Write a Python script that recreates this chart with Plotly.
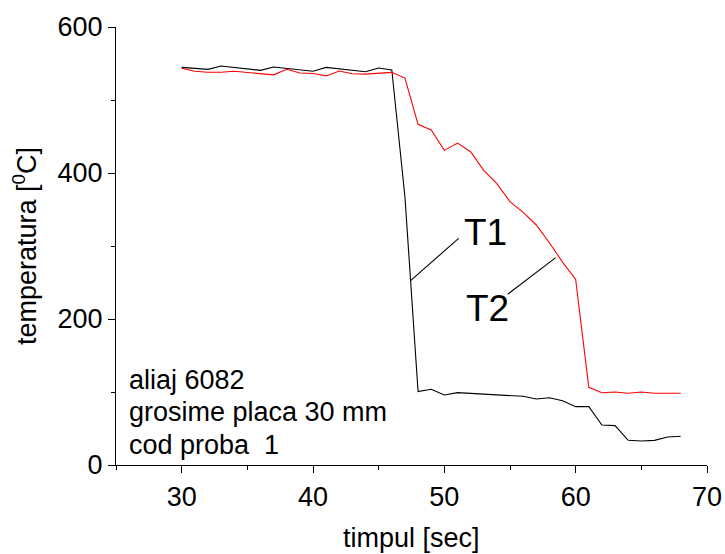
import plotly.graph_objects as go

t1_x = list(range(30, 69))
t1_y = [544.7, 543.8, 542.0, 546.6, 544.3, 542.5, 540.6, 545.2, 542.9, 541.1,
        539.3, 544.7, 542.5, 540.6, 538.8, 543.8, 541.1, 367.5, 100.5, 103.7,
        95.9, 99.1, 98.2, 97.3, 96.3, 95.4, 94.1, 90.4, 92.2, 88.1,
        79.9, 79.9, 54.8, 53.9, 33.8, 32.9, 33.8, 38.4, 39.3]

t2_x = list(range(30, 69))
t2_y = [543.4, 539.3, 538.0, 538.0, 539.3, 537.5, 535.9, 534.5, 542.0, 537.0,
        536.3, 533.0, 539.8, 535.9, 535.4, 536.3, 537.9, 530.0, 466.7, 458.9,
        431.0, 441.0, 429.2, 403.6, 385.4, 360.7, 346.1, 328.8, 304.5, 278.0,
        254.3, 106.4, 99.0, 100.0, 98.2, 100.0, 98.2, 98.2, 98.2]

info_lines = ["aliaj 6082", "grosime placa 30 mm", "cod proba  1"]
info_y = [116, 72.6, 27.4]

FONT = "Arial, Liberation Sans, sans-serif"

fig = go.Figure()
fig.add_trace(go.Scatter(x=t1_x, y=t1_y, mode="lines", name="T1",
                         line=dict(color="#000000", width=1.1)))
fig.add_trace(go.Scatter(x=t2_x, y=t2_y, mode="lines", name="T2",
                         line=dict(color="#ff0000", width=1.1)))

for txt, yy in zip(info_lines, info_y):
    fig.add_annotation(x=25.85, y=yy, xref="x", yref="y", text=txt, showarrow=False,
                       xanchor="left", yanchor="middle",
                       font=dict(family=FONT, size=27, color="black"))

fig.add_annotation(x=53.15, y=319, xref="x", yref="y", text="T1", showarrow=False,
                   xanchor="center", yanchor="middle",
                   font=dict(family=FONT, size=37, color="black"))
fig.add_annotation(x=53.3, y=215, xref="x", yref="y", text="T2", showarrow=False,
                   xanchor="center", yanchor="middle",
                   font=dict(family=FONT, size=37, color="black"))
fig.add_shape(type="line", x0=47.43, y0=252.5, x1=51.09, y1=310.5,
              xref="x", yref="y", line=dict(color="black", width=1.1))
fig.add_shape(type="line", x0=54.82, y0=233.8, x1=58.48, y1=284,
              xref="x", yref="y", line=dict(color="black", width=1.1))

# x-axis title placed as annotation below the tick labels
fig.add_annotation(x=0.5, y=-0.167, xref="paper", yref="paper", text="timpul [sec]",
                   showarrow=False, xanchor="center", yanchor="middle",
                   font=dict(family=FONT, size=27, color="black"))

fig.update_layout(
    width=725, height=554,
    margin=dict(l=116, r=18, t=27, b=89),
    paper_bgcolor="white", plot_bgcolor="white",
    showlegend=False,
    font=dict(family=FONT, size=27, color="black"),
)
fig.update_xaxes(range=[25, 70], tickvals=[30, 40, 50, 60, 70], automargin=False,
                 showgrid=False, zeroline=False, showline=True,
                 linecolor="black", linewidth=1.3, ticks="outside",
                 ticklen=7, tickwidth=1.3, tickcolor="black",
                 minor=dict(tickvals=[25, 35, 45, 55, 65], ticks="outside",
                            ticklen=4, tickwidth=1.3, tickcolor="black"),
                 tickfont=dict(family=FONT, size=27))
fig.update_yaxes(range=[0, 600], tickvals=[0, 200, 400, 600], automargin=False,
                 showgrid=False, zeroline=False, showline=True,
                 linecolor="black", linewidth=1.3, ticks="outside",
                 ticklen=7, tickwidth=1.3, tickcolor="black",
                 minor=dict(tickvals=[100, 300, 500], ticks="outside",
                            ticklen=4, tickwidth=1.3, tickcolor="black"),
                 tickfont=dict(family=FONT, size=27),
                 title=dict(text="temperatura [<sup>0</sup>C]", font=dict(family=FONT, size=27), standoff=12))

fig.write_html("out.html")
